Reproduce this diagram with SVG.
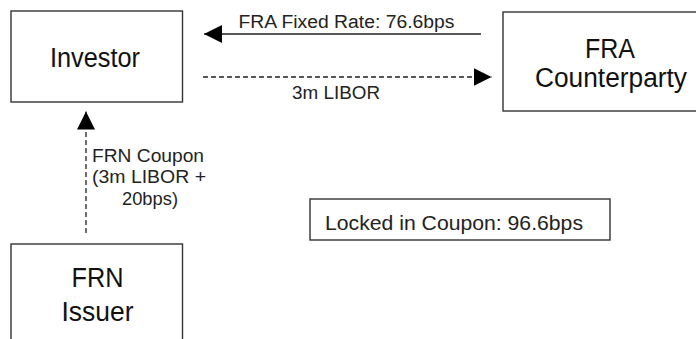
<svg xmlns="http://www.w3.org/2000/svg" width="696" height="339" viewBox="0 0 696 339">
  <defs>
    <style>
      .box { fill: #ffffff; stroke: #333333; stroke-width: 1.4; }
      .big { font-family: "Liberation Sans", Arial, sans-serif; font-size: 27px; fill: #111111; text-anchor: middle; }
      .lbl { font-family: "Liberation Sans", Arial, sans-serif; font-size: 18px; fill: #222222; }
      .conn { fill: none; stroke: #222222; stroke-width: 1.3; }
      .dash { stroke-dasharray: 5 3; }
    </style>
    <marker id="arrow" markerUnits="userSpaceOnUse" markerWidth="18" markerHeight="18" viewBox="0 0 17 17" refX="17" refY="8.5" orient="auto">
      <path d="M0,0 L17,8.5 L0,17 Z" fill="#000000"/>
    </marker>
  </defs>
  <rect width="696" height="339" fill="#ffffff"/>

  <g id="investor">
    <rect class="box" x="11" y="11" width="171.5" height="91"/>
    <text class="big" x="95" y="67" textLength="90" lengthAdjust="spacingAndGlyphs">Investor</text>
  </g>

  <g id="fra-counterparty">
    <rect class="box" x="503" y="12" width="230" height="99"/>
    <text class="big" x="610" y="58" textLength="50" lengthAdjust="spacingAndGlyphs">FRA</text>
    <text class="big" x="611" y="87" textLength="152" lengthAdjust="spacingAndGlyphs">Counterparty</text>
  </g>

  <g id="frn-issuer">
    <rect class="box" x="11" y="244" width="171.5" height="110"/>
    <text class="big" x="97.5" y="287" textLength="52" lengthAdjust="spacingAndGlyphs">FRN</text>
    <text class="big" x="97.5" y="320.5" textLength="72" lengthAdjust="spacingAndGlyphs">Issuer</text>
  </g>

  <g id="locked-coupon">
    <rect class="box" x="310" y="199" width="300" height="41"/>
    <text class="lbl" x="325" y="230" textLength="258" lengthAdjust="spacingAndGlyphs" style="font-size:21px">Locked in Coupon: 96.6bps</text>
  </g>

  <g id="connectors">
    <path class="conn" d="M481,34 L204,34" marker-end="url(#arrow)"/>
    <text class="lbl" x="238.5" y="27.5" textLength="216" lengthAdjust="spacingAndGlyphs">FRA Fixed Rate: 76.6bps</text>

    <path class="conn dash" d="M203,77 L491.5,77" marker-end="url(#arrow)"/>
    <text class="lbl" x="292" y="99" textLength="88" lengthAdjust="spacingAndGlyphs">3m LIBOR</text>

    <path class="conn dash" d="M86,233 L86,111.5" marker-end="url(#arrow)"/>
    <text class="lbl" x="92" y="161.5" textLength="112" lengthAdjust="spacingAndGlyphs">FRN Coupon</text>
    <text class="lbl" x="92" y="183" textLength="114" lengthAdjust="spacingAndGlyphs">(3m LIBOR +</text>
    <text class="lbl" x="122" y="204.5" textLength="56" lengthAdjust="spacingAndGlyphs">20bps)</text>
  </g>
</svg>
